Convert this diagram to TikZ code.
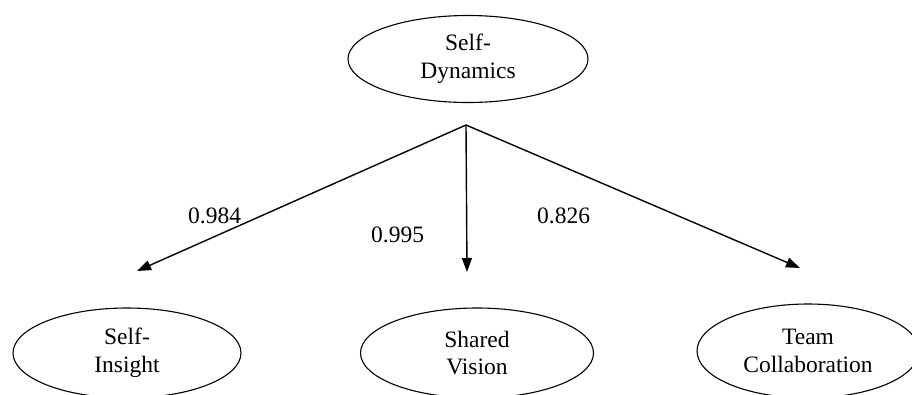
\documentclass[tikz,border=0pt]{standalone}
\usepackage{fontspec}
\setmainfont{Liberation Serif}
\usetikzlibrary{shapes.geometric,arrows.meta}
\begin{document}
\begin{tikzpicture}[x=1pt,y=-1pt,
  construct/.style={draw, ellipse, line width=1.1pt, inner sep=0pt,
    align=center, font=\fontsize{23.5}{27.5}\selectfont},
  path/.style={line width=1.4pt, -{Triangle[length=14pt,width=10pt]}},
  coef/.style={font=\fontsize{23.5}{27.5}\selectfont, inner sep=0pt, anchor=base west}]
  \useasboundingbox (0,0) rectangle (912,394);
  \clip (0,0) rectangle (912,394);

  % latent constructs
  \node[construct, minimum width=240pt, minimum height=87pt] (dyn) at (468,59) {Self-\\Dynamics};
  \node[construct, minimum width=228pt, minimum height=90pt] (ins) at (127,353) {Self-\\Insight};
  \node[construct, minimum width=233pt, minimum height=90pt] (vis) at (477,353) {Shared\\Vision};
  \node[construct, minimum width=222pt, minimum height=94pt] (col) at (808,351) {Team\\Collaboration};

  % common origin of the loadings and the arrow tips
  \coordinate (hub) at (466,125);
  \coordinate (tipI) at (137,271);
  \coordinate (tipV) at (467,272);
  \coordinate (tipC) at (800,268);

  \draw[path] (hub) -- (tipI);
  \draw[path] (hub) -- (tipV);
  \draw[path] (hub) -- (tipC);

  % standardized loadings
  \node[coef] (lI) at (188,223) {0.984};
  \node[coef] (lV) at (371,242) {0.995};
  \node[coef] (lC) at (537,223) {0.826};
\end{tikzpicture}
\end{document}
